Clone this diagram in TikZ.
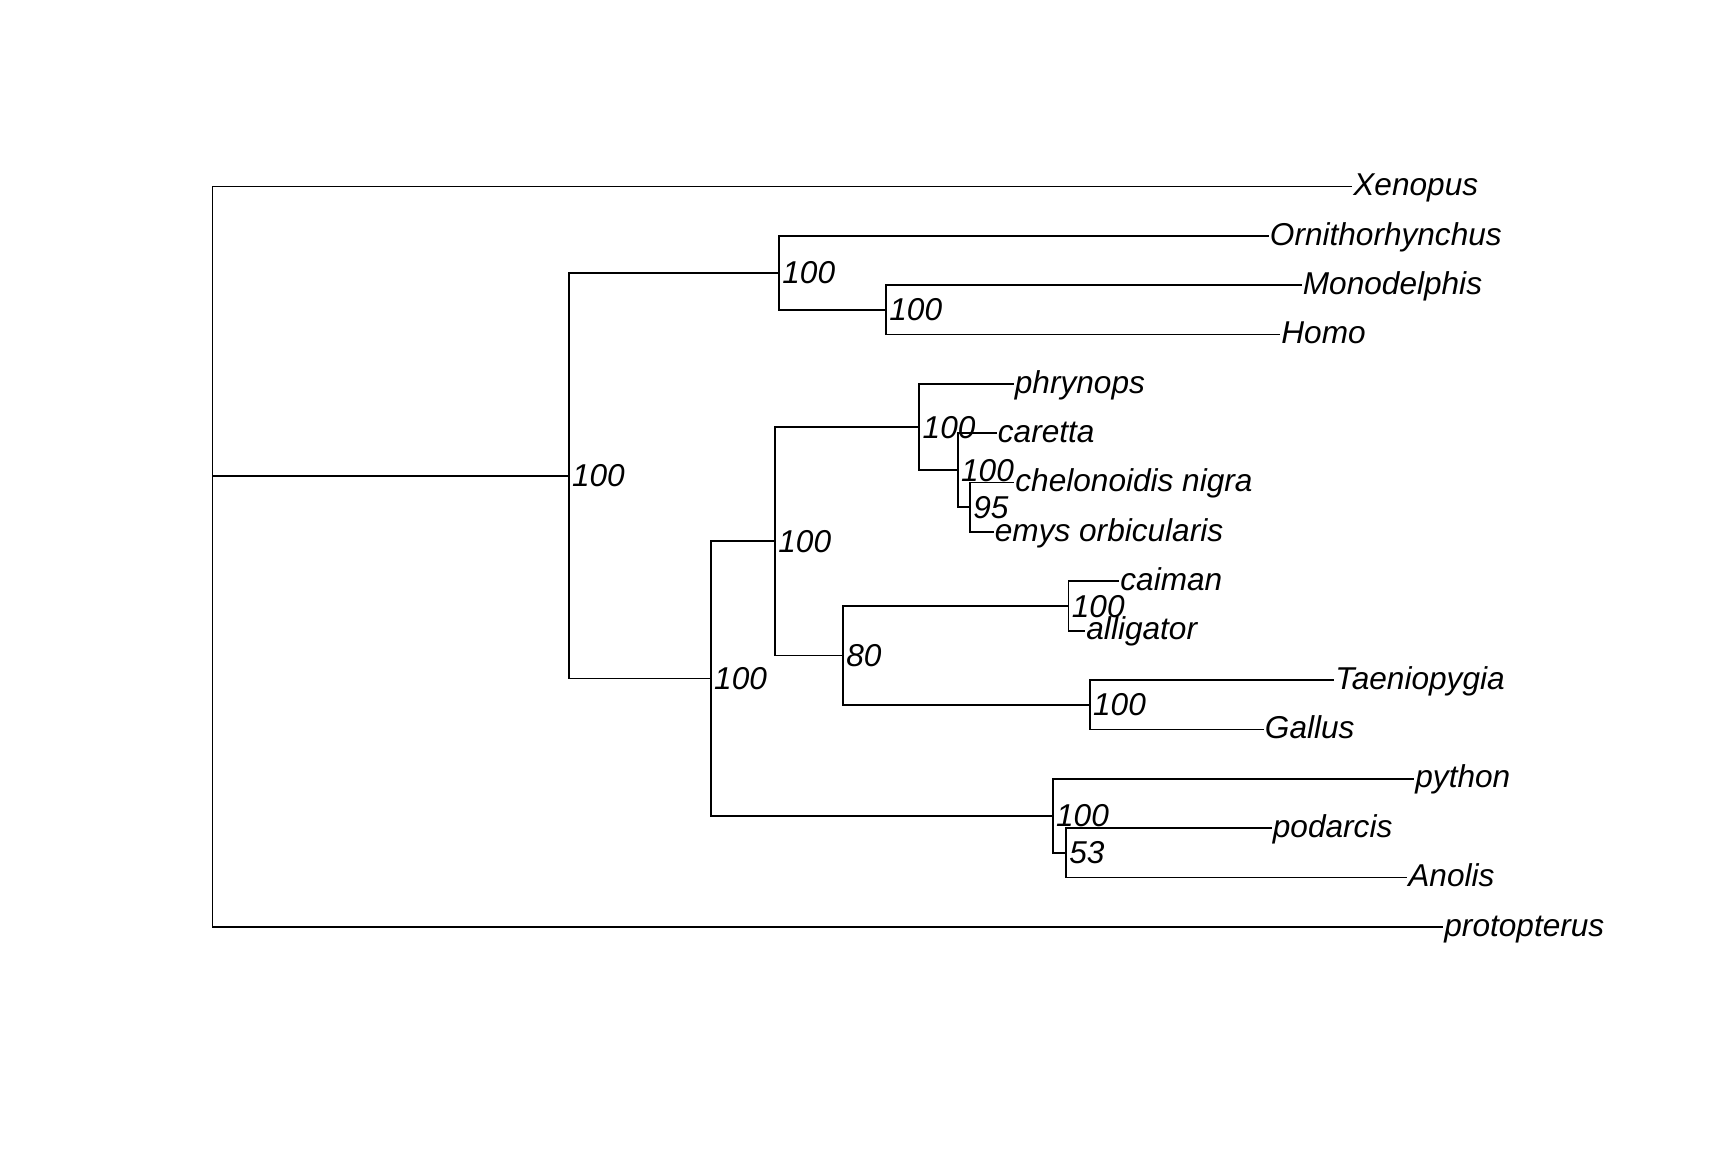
\documentclass[tikz,border=0pt]{standalone}
\usepackage{fontspec}
\setmainfont{Liberation Sans}
\begin{document}
\begin{tikzpicture}[x=0.5pt,y=-0.5pt,
  edge/.style={line width=0.85pt,black,line cap=butt,line join=miter},
  tiplab/.style={anchor=base west,inner sep=0pt,yshift=-4.6pt,xshift=0.5pt,
    font=\fontsize{15.8}{18}\selectfont\itshape},
  bslab/.style={anchor=base west,inner sep=0pt,yshift=-5.5pt,xshift=1.5pt,
    font=\fontsize{15.8}{18}\selectfont\itshape}]
\useasboundingbox (0,0) rectangle (1728,1152);
\fill[white] (0,0) rectangle (1728,1152);

% internal nodes
\coordinate (root)  at (212.5,475.7);
\coordinate (nA)    at (568.7,475.7);
\coordinate (nMam)  at (779,272.9);
\coordinate (nM2)   at (886,309.9);
\coordinate (nSaur) at (710.8,678.5);
\coordinate (nArch) at (775,541.2);
\coordinate (nTurt) at (919.3,427.1);
\coordinate (nT2)   at (957.7,470.3);
\coordinate (nT3)   at (970,507.3);
\coordinate (nArcho) at (843,655.35);
\coordinate (nCroc) at (1068.5,606);
\coordinate (nBird) at (1089.7,704.7);
\coordinate (nSqua) at (1052.7,815.7);
\coordinate (nS2)   at (1066,852.75);

% tips
\coordinate (tXen)  at (1352,186.5);
\coordinate (tOrn)  at (1268.5,235.9);
\coordinate (tMon)  at (1301.5,285.2);
\coordinate (tHom)  at (1280,334.6);
\coordinate (tPhr)  at (1013.5,383.9);
\coordinate (tCar)  at (996.5,433.3);
\coordinate (tChe)  at (1014,482.6);
\coordinate (tEmy)  at (993.5,532);
\coordinate (tCai)  at (1119,581.3);
\coordinate (tAll)  at (1085,630.7);
\coordinate (tTae)  at (1334,680);
\coordinate (tGal)  at (1263.5,729.4);
\coordinate (tPyt)  at (1414,778.7);
\coordinate (tPod)  at (1271.5,828.1);
\coordinate (tAno)  at (1407,877.4);
\coordinate (tPro)  at (1443,926.8);

% branches
\draw[edge] (root) |- (tXen);
\draw[edge] (root) -- (nA);
\draw[edge] (root) |- (tPro);
\draw[edge] (nA) |- (nMam);
\draw[edge] (nA) |- (nSaur);
\draw[edge] (nMam) |- (tOrn);
\draw[edge] (nMam) |- (nM2);
\draw[edge] (nM2) |- (tMon);
\draw[edge] (nM2) |- (tHom);
\draw[edge] (nSaur) |- (nArch);
\draw[edge] (nSaur) |- (nSqua);
\draw[edge] (nArch) |- (nTurt);
\draw[edge] (nArch) |- (nArcho);
\draw[edge] (nTurt) |- (tPhr);
\draw[edge] (nTurt) |- (nT2);
\draw[edge] (nT2) |- (tCar);
\draw[edge] (nT2) |- (nT3);
\draw[edge] (nT3) |- (tChe);
\draw[edge] (nT3) |- (tEmy);
\draw[edge] (nArcho) |- (nCroc);
\draw[edge] (nArcho) |- (nBird);
\draw[edge] (nCroc) |- (tCai);
\draw[edge] (nCroc) |- (tAll);
\draw[edge] (nBird) |- (tTae);
\draw[edge] (nBird) |- (tGal);
\draw[edge] (nSqua) |- (tPyt);
\draw[edge] (nSqua) |- (nS2);
\draw[edge] (nS2) |- (tPod);
\draw[edge] (nS2) |- (tAno);

% tip labels
\node[tiplab] (lXen) at (tXen) {Xenopus};
\node[tiplab] (lOrn) at (tOrn) {Ornithorhynchus};
\node[tiplab] (lMon) at (tMon) {Monodelphis};
\node[tiplab] (lHom) at (tHom) {Homo};
\node[tiplab] (lPhr) at (tPhr) {phrynops};
\node[tiplab] (lCar) at (tCar) {caretta};
\node[tiplab] (lChe) at (tChe) {chelonoidis nigra};
\node[tiplab] (lEmy) at (tEmy) {emys orbicularis};
\node[tiplab] (lCai) at (tCai) {caiman};
\node[tiplab] (lAll) at (tAll) {alligator};
\node[tiplab] (lTae) at (tTae) {Taeniopygia};
\node[tiplab] (lGal) at (tGal) {Gallus};
\node[tiplab] (lPyt) at (tPyt) {python};
\node[tiplab] (lPod) at (tPod) {podarcis};
\node[tiplab] (lAno) at (tAno) {Anolis};
\node[tiplab] (lPro) at (tPro) {protopterus};

% support values
\node[bslab] (bA)     at (nA)     {100};
\node[bslab] (bMam)   at (nMam)   {100};
\node[bslab] (bM2)    at (nM2)    {100};
\node[bslab] (bSaur)  at (nSaur)  {100};
\node[bslab] (bArch)  at (nArch)  {100};
\node[bslab] (bTurt)  at (nTurt)  {100};
\node[bslab] (bT2)    at (nT2)    {100};
\node[bslab] (bT3)    at (nT3)    {95};
\node[bslab] (bArcho) at (nArcho) {80};
\node[bslab] (bCroc)  at (nCroc)  {100};
\node[bslab] (bBird)  at (nBird)  {100};
\node[bslab] (bSqua)  at (nSqua)  {100};
\node[bslab] (bS2)    at (nS2)    {53};
\end{tikzpicture}
\end{document}
